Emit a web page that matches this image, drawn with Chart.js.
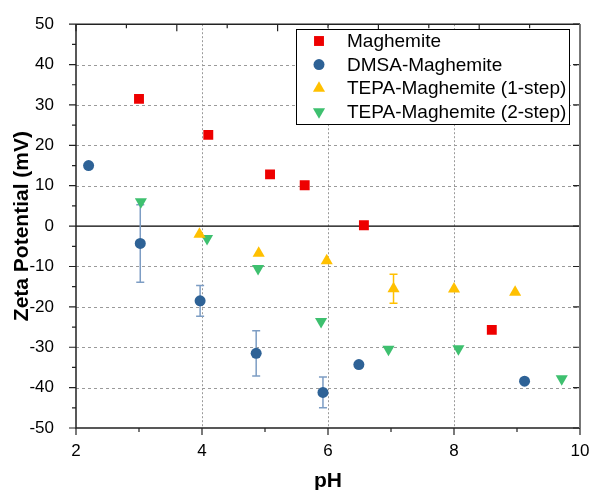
<!DOCTYPE html>
<html>
<head>
<meta charset="utf-8">
<script src="https://cdn.jsdelivr.net/npm/chart.js@4.4.0/dist/chart.umd.min.js"></script>
<style>
html, body { margin: 0; padding: 0; background: #fff; }
</style>
</head>
<body>
<canvas id="myChart1" width="590" height="490"></canvas>
<script>
//------------------ data ------------------//
// Maghemite
const MAG_PH = [3.0, 4.1, 5.08, 5.63, 6.57, 8.6]
const MAG_ZETA = [31.5, 22.6, 12.8, 10.1, 0.2, -25.7]
// DMSA-Maghemite
const DMSA_PH = [2.2, 3.02, 3.97, 4.86, 5.92, 6.49, 9.12]
const DMSA_ZETA = [15.0, -4.3, -18.5, -31.5, -41.2, -34.3, -38.4]
const DMSA_ERR = [0, 9.6, 3.8, 5.6, 3.8, 0, 0]
// TEPA-Maghemite (1-step)
const TEPA1_PH = [3.96, 4.9, 5.98, 7.04, 8.0, 8.97]
const TEPA1_ZETA = [-2.0, -6.7, -8.6, -15.5, -15.6, -16.4]
const TEPA1_ERR = [0, 0, 0, 3.6, 0, 0]
// TEPA-Maghemite (2-step)
const TEPA2_PH = [3.03, 4.08, 4.89, 5.89, 6.96, 8.07, 9.71]
const TEPA2_ZETA = [6.0, -3.1, -10.5, -23.6, -30.5, -30.4, -37.8]

// axis
const X_MIN = 2, X_MAX = 10, X_STEP = 2
const Y_MIN = -50, Y_MAX = 50, Y_STEP = 10
const X_TITLE = 'pH'
const Y_TITLE = 'Zeta Potential (mV)'

const FONT = "'Liberation Sans', Arial, sans-serif"
const CHART_ID = 'myChart1'
//------------------------------------------//


function toPoints(xs, ys){
    var pts = []
    for (let i=0; i<xs.length; i++){
        pts.push({x: xs[i], y: ys[i]})
    }
    return pts
}

const SERIES = [
    {label: 'Maghemite', data: toPoints(MAG_PH, MAG_ZETA), color: '#ee0000', style: 'rect', radius: 7, rotation: 0},
    {label: 'DMSA-Maghemite', data: toPoints(DMSA_PH, DMSA_ZETA), color: '#2e6296', style: 'circle', radius: 5.5, rotation: 0,
        errors: DMSA_ERR, errorColor: '#7d9dc4'},
    {label: 'TEPA-Maghemite (1-step)', data: toPoints(TEPA1_PH, TEPA1_ZETA), color: '#ffc000', style: 'triangle', radius: 7, rotation: 0,
        errors: TEPA1_ERR, errorColor: '#ffc000'},
    {label: 'TEPA-Maghemite (2-step)', data: toPoints(TEPA2_PH, TEPA2_ZETA), color: '#3ec06f', style: 'triangle', radius: 7, rotation: 180},
]


/*--------------------------------------------------------------------
grid, zero line and error bars (under the markers)
--------------------------------------------------------------------*/
const underPlugin = {
    id: 'under',
    beforeDatasetsDraw(chart){
        const ctx = chart.ctx
        const xs = chart.scales.x, ys = chart.scales.y
        const area = chart.chartArea
        ctx.save()

        // dotted grid
        ctx.strokeStyle = '#9a9a9a'
        ctx.lineWidth = 1
        ctx.setLineDash([3, 3])
        ctx.beginPath()
        for (let v=Y_MIN+Y_STEP; v<Y_MAX; v+=Y_STEP){
            if (v == 0) continue
            const py = Math.round(ys.getPixelForValue(v)) + 0.5
            ctx.moveTo(area.left, py); ctx.lineTo(area.right, py)
        }
        ctx.stroke()
        ctx.setLineDash([2, 2])
        ctx.beginPath()
        for (let v=X_MIN+X_STEP; v<X_MAX; v+=X_STEP){
            const px = Math.round(xs.getPixelForValue(v)) + 0.5
            ctx.moveTo(px, area.top); ctx.lineTo(px, area.bottom)
        }
        ctx.stroke()
        ctx.setLineDash([])

        // zero line
        ctx.strokeStyle = '#000'
        ctx.lineWidth = 1.2
        const y0 = ys.getPixelForValue(0)
        ctx.beginPath()
        ctx.moveTo(area.left, y0)
        ctx.lineTo(area.right, y0)
        ctx.stroke()

        // error bars
        chart.data.datasets.forEach(function(ds){
            if (!ds.errors) return
            ctx.strokeStyle = ds.errorColor
            ctx.lineWidth = 1.5
            ds.data.forEach(function(p, j){
                const e = ds.errors[j]
                if (!e) return
                const px = xs.getPixelForValue(p.x)
                const top = ys.getPixelForValue(p.y + e)
                const bot = ys.getPixelForValue(p.y - e)
                ctx.beginPath()
                ctx.moveTo(px, top); ctx.lineTo(px, bot)
                ctx.moveTo(px - 4, top); ctx.lineTo(px + 4, top)
                ctx.moveTo(px - 4, bot); ctx.lineTo(px + 4, bot)
                ctx.stroke()
            })
        })
        ctx.restore()
    }
}


/*--------------------------------------------------------------------
marker for the legend
--------------------------------------------------------------------*/
function drawMarker(ctx, s, x, y){
    ctx.fillStyle = s.color
    ctx.beginPath()
    if (s.style == 'rect'){
        const h = s.radius * Math.SQRT1_2
        ctx.rect(x - h, y - h, h * 2, h * 2)
    }
    else if (s.style == 'circle'){
        ctx.arc(x, y, s.radius, 0, Math.PI * 2)
    }
    else {
        const r = s.radius
        const sign = s.rotation == 180 ? -1 : 1
        ctx.moveTo(x, y - sign * r)
        ctx.lineTo(x + r * Math.sin(Math.PI / 3), y + sign * r / 2)
        ctx.lineTo(x - r * Math.sin(Math.PI / 3), y + sign * r / 2)
        ctx.closePath()
    }
    ctx.fill()
}


/*--------------------------------------------------------------------
frame, ticks (major / minor, all four sides) and the legend box
--------------------------------------------------------------------*/
const framePlugin = {
    id: 'frame',
    afterDraw(chart){
        const ctx = chart.ctx
        const xs = chart.scales.x, ys = chart.scales.y
        const a = chart.chartArea
        ctx.save()

        // ticks
        ctx.strokeStyle = '#222'
        ctx.lineWidth = 1.2
        ctx.beginPath()
        // left, outward
        for (let v=Y_MIN; v<=Y_MAX; v+=5){
            const py = ys.getPixelForValue(v)
            const len = (v % 10 == 0) ? 7 : 4
            ctx.moveTo(a.left, py); ctx.lineTo(a.left - len, py)
        }
        // bottom, outward
        for (let v=X_MIN; v<=X_MAX; v+=1){
            const px = xs.getPixelForValue(v)
            const len = (v % 2 == 0) ? 7 : 4
            ctx.moveTo(px, a.bottom); ctx.lineTo(px, a.bottom + len)
        }
        // top, inward (ten equal steps)
        for (let i=0; i<=10; i++){
            const px = a.left + (a.right - a.left) * i / 10
            const len = (i % 2 == 0) ? 7 : 4
            ctx.moveTo(px, a.top); ctx.lineTo(px, a.top + len)
        }
        // right, inward
        for (let v=Y_MIN; v<=Y_MAX; v+=10){
            const py = ys.getPixelForValue(v)
            ctx.moveTo(a.right, py); ctx.lineTo(a.right - 7, py)
        }
        ctx.stroke()

        // frame
        ctx.strokeStyle = '#222'
        ctx.lineWidth = 1.5
        ctx.beginPath()
        ctx.moveTo(a.left, a.top); ctx.lineTo(a.right, a.top)
        ctx.moveTo(a.left, a.top); ctx.lineTo(a.left, a.bottom)
        ctx.lineTo(a.right, a.bottom)
        ctx.stroke()
        ctx.strokeStyle = '#777'
        ctx.lineWidth = 2
        ctx.beginPath()
        ctx.moveTo(a.right, a.top); ctx.lineTo(a.right, a.bottom)
        ctx.stroke()

        // legend
        const lx = 296, ly = 29, lw = 273, lh = 95
        ctx.fillStyle = '#fff'
        ctx.fillRect(lx, ly, lw, lh)
        ctx.strokeStyle = '#000'
        ctx.lineWidth = 1
        ctx.strokeRect(lx + 0.5, ly + 0.5, lw, lh)
        ctx.font = '19px ' + FONT
        ctx.textBaseline = 'middle'
        ctx.textAlign = 'left'
        for (let i=0; i<SERIES.length; i++){
            const ry = ly + 12 + i * 23.6
            drawMarker(ctx, SERIES[i], lx + 23, ry)
            ctx.fillStyle = '#000'
            ctx.fillText(SERIES[i].label, lx + 51, ry + 1)
        }
        ctx.restore()
    }
}


/*--------------------------------------------------------------------
plot
--------------------------------------------------------------------*/
function plotChart(chart_id){
    var datasets = SERIES.map(function(s){
        return {
            label: s.label,
            data: s.data,
            pointStyle: s.style,
            pointRadius: s.radius,
            pointHoverRadius: s.radius,
            pointRotation: s.rotation,
            pointBackgroundColor: s.color,
            pointBorderColor: s.color,
            pointBorderWidth: 0,
            showLine: false,
            errors: s.errors,
            errorColor: s.errorColor,
        }
    })

    var ctx = document.getElementById(chart_id)
    window.myChart = new Chart(ctx, {
        type: 'scatter',
        data: {datasets: datasets},
        plugins: [underPlugin, framePlugin],
        options: {
            responsive: false,
            animation: false,
            layout: {padding: {top: 22, right: 10, left: 0, bottom: 0}},
            plugins: {legend: {display: false}, tooltip: {enabled: false}},
            scales: {
                x: {
                    type: 'linear', min: X_MIN, max: X_MAX,
                    afterFit: function(scale){
                        scale.height = 62
                        scale.paddingLeft = 0
                        scale.paddingRight = 0
                    },
                    ticks: {stepSize: X_STEP, color: '#000', font: {family: FONT, size: 17}, padding: 5},
                    grid: {display: false},
                    border: {display: false},
                    title: {display: true, text: X_TITLE, color: '#000', font: {family: FONT, size: 21, weight: 'bold'}, padding: {top: 0, bottom: -4}},
                },
                y: {
                    type: 'linear', min: Y_MIN, max: Y_MAX,
                    afterFit: function(scale){ scale.width = 76 },
                    ticks: {stepSize: Y_STEP, color: '#000', font: {family: FONT, size: 17}, padding: 14},
                    grid: {display: false},
                    border: {display: false},
                    title: {display: true, text: Y_TITLE, color: '#000', font: {family: FONT, size: 21, weight: 'bold'}, padding: {top: 10, bottom: 0}},
                }
            }
        }
    })
}

plotChart(CHART_ID)
</script>
</body>
</html>
